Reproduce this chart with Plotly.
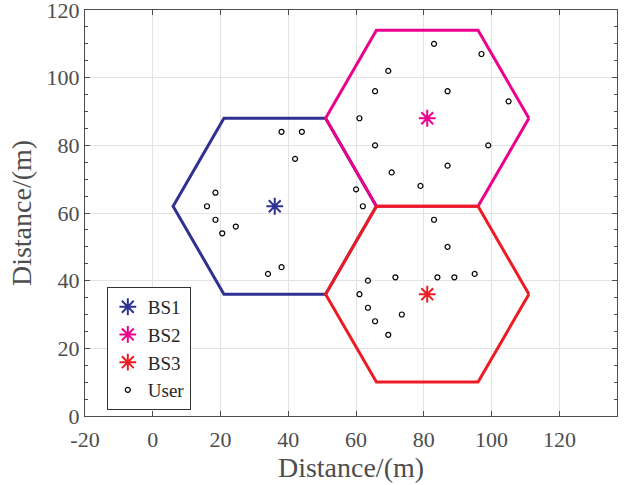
import numpy as np
import plotly.graph_objects as go

# Base stations
bs_names = ["BS1", "BS2", "BS3"]
bs_x = [36, 81, 81]
bs_y = [62, 88, 36]
bs_colors = ["#2E3192", "#EC008C", "#ED1C24"]
cell_radius = 30

# Users
user_x = [38, 44, 42, 18.5, 16, 18.5, 24.5, 20.5, 34, 38,
          83, 97, 69.5, 65.6, 87, 105, 61, 65.6, 99, 70.5, 87, 79, 60, 62,
          83, 87, 63.5, 71.6, 84, 89, 95, 61, 63.5, 73.5, 65.6, 69.5]
user_y = [84, 84, 76, 66, 62, 58, 56, 54, 42, 44,
          110, 107, 102, 96, 96, 93, 88, 80, 80, 72, 74, 68, 67, 62,
          58, 50, 40, 41, 41, 41, 42, 36, 32, 30, 28, 24]

x_ticks = [-20, 0, 20, 40, 60, 80, 100, 120]
x_tick_labels = ["-20", "0", "20", "40", "60", "80", "100", "120"]
y_ticks = [0, 20, 40, 60, 80, 100, 120]
y_tick_labels = ["0", "20", "40", "60", "80", "100", "120"]

FONT = "Times New Roman, Liberation Serif, serif"
AXC = "#4d4d4d"

fig = go.Figure()

ang = np.deg2rad(np.arange(0, 361, 60))
for cx, cy, col in zip(bs_x, bs_y, bs_colors):
    fig.add_trace(go.Scatter(
        x=cx + cell_radius * np.cos(ang), y=cy + cell_radius * np.sin(ang),
        mode="lines", line=dict(color=col, width=3), showlegend=False,
        hoverinfo="skip"))

for name, cx, cy, col in zip(bs_names, bs_x, bs_y, bs_colors):
    fig.add_trace(go.Scatter(
        x=[cx], y=[cy], mode="markers", name=name,
        marker=dict(symbol="asterisk-open", size=14, color=col,
                    line=dict(color=col, width=2))))

fig.add_trace(go.Scatter(
    x=user_x, y=user_y, mode="markers", name="User",
    marker=dict(symbol="circle-open", size=5, color="black",
                line=dict(color="black", width=1.2))))

fig.update_xaxes(
    range=[-20, 137], tickmode="array", tickvals=x_ticks, ticktext=x_tick_labels,
    showline=True, linecolor=AXC, linewidth=1, mirror="allticks",
    ticks="inside", ticklen=5, tickcolor=AXC,
    showgrid=True, gridcolor="#e3e3e3", gridwidth=1, zeroline=False,
    tickfont=dict(family=FONT, size=22, color=AXC),
    ticklabeloverflow="allow", automargin=False, ticklabelstandoff=4,
    title=dict(text="Distance/(m)", standoff=2,
               font=dict(family=FONT, size=28, color=AXC)),
)
fig.update_yaxes(
    range=[0, 120], tickmode="array", tickvals=y_ticks, ticktext=y_tick_labels,
    showline=True, linecolor=AXC, linewidth=1, mirror="allticks",
    ticks="inside", ticklen=5, tickcolor=AXC,
    showgrid=True, gridcolor="#e3e3e3", gridwidth=1, zeroline=False,
    tickfont=dict(family=FONT, size=22, color=AXC),
    ticklabeloverflow="allow", automargin=False,
    minor=dict(dtick=5, ticks="inside", ticklen=3, tickcolor=AXC, showgrid=False),
    title=dict(text="Distance/(m)", standoff=6,
               font=dict(family=FONT, size=28, color=AXC)),
)

fig.update_layout(
    width=627, height=485,
    margin=dict(l=85, r=10, t=10, b=69),
    plot_bgcolor="white", paper_bgcolor="white",
    legend=dict(x=0.041, y=0.318, xanchor="left", yanchor="top",
                bgcolor="white", bordercolor="#333333", borderwidth=1,
                font=dict(family=FONT, size=19, color="#262626"),
                itemwidth=30, tracegroupgap=0),
    showlegend=True,
)

fig.write_html("out.html")
